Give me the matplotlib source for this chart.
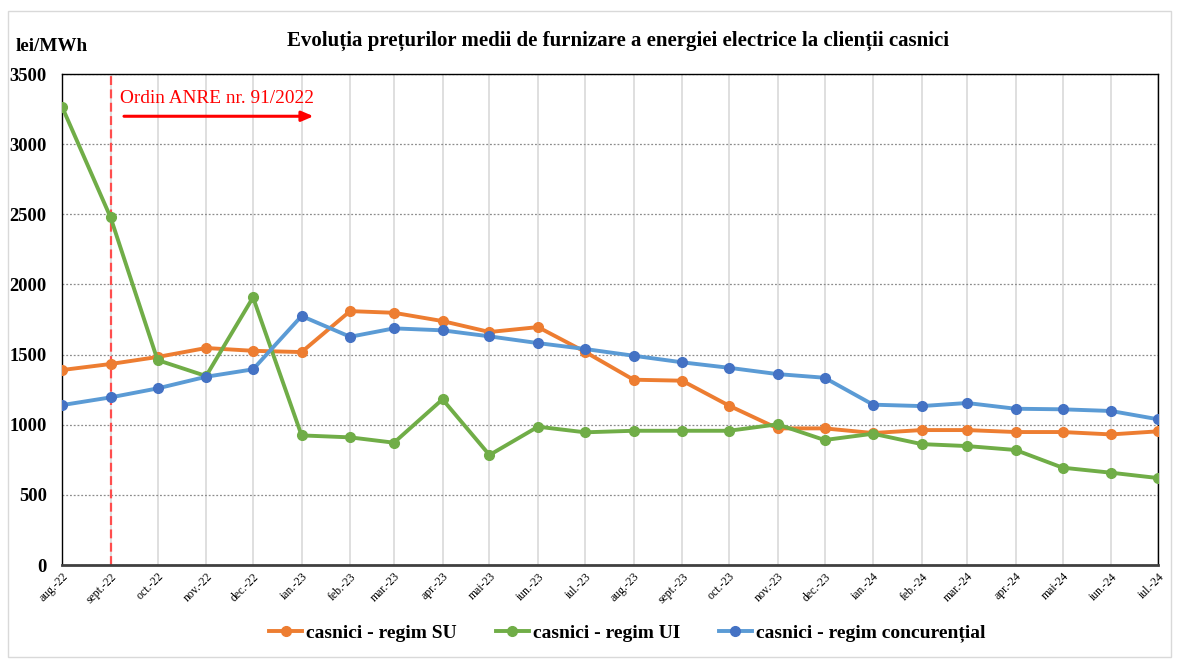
import matplotlib
matplotlib.use("Agg")
import matplotlib.pyplot as plt
from matplotlib.patches import Rectangle
import pandas as pd

# month labels as printed on the x axis
month_labels = ["aug.-22", "sept.-22", "oct.-22", "nov.-22", "dec.-22", "ian.-23",
                "feb.-23", "mar.-23", "apr.-23", "mai-23", "iun.-23", "iul.-23",
                "aug.-23", "sept.-23", "oct.-23", "nov.-23", "dec.-23", "ian.-24",
                "feb.-24", "mar.-24", "apr.-24", "mai-24", "iun.-24", "iul.-24"]
month_start = ["2022-08-01", "2022-09-01", "2022-10-01", "2022-11-01", "2022-12-01",
               "2023-01-01", "2023-02-01", "2023-03-01", "2023-04-01", "2023-05-01",
               "2023-06-01", "2023-07-01", "2023-08-01", "2023-09-01", "2023-10-01",
               "2023-11-01", "2023-12-01", "2024-01-01", "2024-02-01", "2024-03-01",
               "2024-04-01", "2024-05-01", "2024-06-01", "2024-07-01"]

# lei/MWh
pret_su = [1390, 1433, 1483, 1547, 1527, 1518, 1810, 1798, 1739, 1661, 1696, 1520,
           1321, 1314, 1136, 974, 974, 941, 962, 962, 948, 948, 931, 953]
pret_ui = [3267, 2478, 1461, 1347, 1908, 924, 910, 872, 1181, 784, 986, 946,
           957, 957, 957, 1003, 891, 936, 862, 848, 820, 694, 658, 620]
pret_conc = [1140, 1195, 1259, 1342, 1395, 1775, 1627, 1687, 1673, 1630, 1582, 1540,
             1492, 1445, 1406, 1361, 1335, 1143, 1133, 1155, 1114, 1110, 1098, 1039]

dates = pd.to_datetime(month_start)
serif = "Liberation Serif"

fig = plt.figure(figsize=(11.77, 6.61), dpi=100)
fig.patches.append(Rectangle((0.007, 0.006), 0.988, 0.978, transform=fig.transFigure,
                             fill=False, edgecolor="#d9d9d9", lw=1.0))
ax = fig.add_axes([0.0527, 0.1452, 0.9312, 0.7428])

ax.plot(dates, pret_su, color="#ED7D31", lw=2.8, marker="o", ms=7,
        label="casnici - regim SU", zorder=3)
ax.plot(dates, pret_ui, color="#70AD47", lw=2.8, marker="o", ms=7,
        label="casnici - regim UI", zorder=3)
ax.plot(dates, pret_conc, color="#5B9BD5", lw=2.8, marker="o", ms=7,
        mfc="#4472C4", mec="#4472C4", label="casnici - regim concurențial", zorder=3)

ax.set_xlim(dates[0], dates[-1])
ax.set_ylim(0, 3500)
ax.set_yticks(range(0, 3501, 500))
ax.set_xticks(dates)
ax.set_xticklabels(month_labels, rotation=45, ha="right", rotation_mode="anchor",
                   fontsize=8.5, family=serif)
for lbl in ax.get_yticklabels():
    lbl.set_fontfamily(serif)
    lbl.set_fontweight("bold")
    lbl.set_fontsize(13.3)
ax.tick_params(axis="both", length=0, pad=4)
ax.tick_params(axis="y", pad=11)

ax.grid(axis="x", color="#d9d9d9", lw=1.2)
ax.grid(axis="y", color="#8c8c8c", lw=0.9, ls=(0, (1.5, 1.5)))
ax.set_axisbelow(True)
for side in ["left", "right", "top"]:
    ax.spines[side].set_color("black")
    ax.spines[side].set_linewidth(1.0)
ax.spines["bottom"].set_color("#404040")
ax.spines["bottom"].set_linewidth(2.0)

# ordin ANRE marker
ax.axvline(dates[1], color="#FF4D4D", ls=(0, (4, 2)), lw=1.6, zorder=2)
ax.text(0.053, 0.951, "Ordin ANRE nr. 91/2022", transform=ax.transAxes, color="red",
        fontsize=13.9, family=serif, va="center", ha="left")
ax.annotate("", xy=(0.232, 0.914), xytext=(0.054, 0.914), xycoords="axes fraction",
            arrowprops=dict(arrowstyle="-|>,head_length=0.7,head_width=0.3",
                            color="red", lw=2.2))

fig.text(0.525, 0.938, "Evoluția prețurilor medii de furnizare a energiei electrice la clienții casnici",
         ha="center", va="center", fontsize=15, fontweight="bold", family=serif)
fig.text(0.013, 0.929, "lei/MWh", ha="left", va="center", fontsize=13.8,
         fontweight="bold", family=serif)

leg = fig.legend(loc="center", bbox_to_anchor=(0.533, 0.042), ncol=3, frameon=False,
                 prop=dict(family=serif, weight="bold", size=14), handlelength=1.7,
                 columnspacing=2.0, handletextpad=0.2)

fig.savefig("out.png", dpi=100)
